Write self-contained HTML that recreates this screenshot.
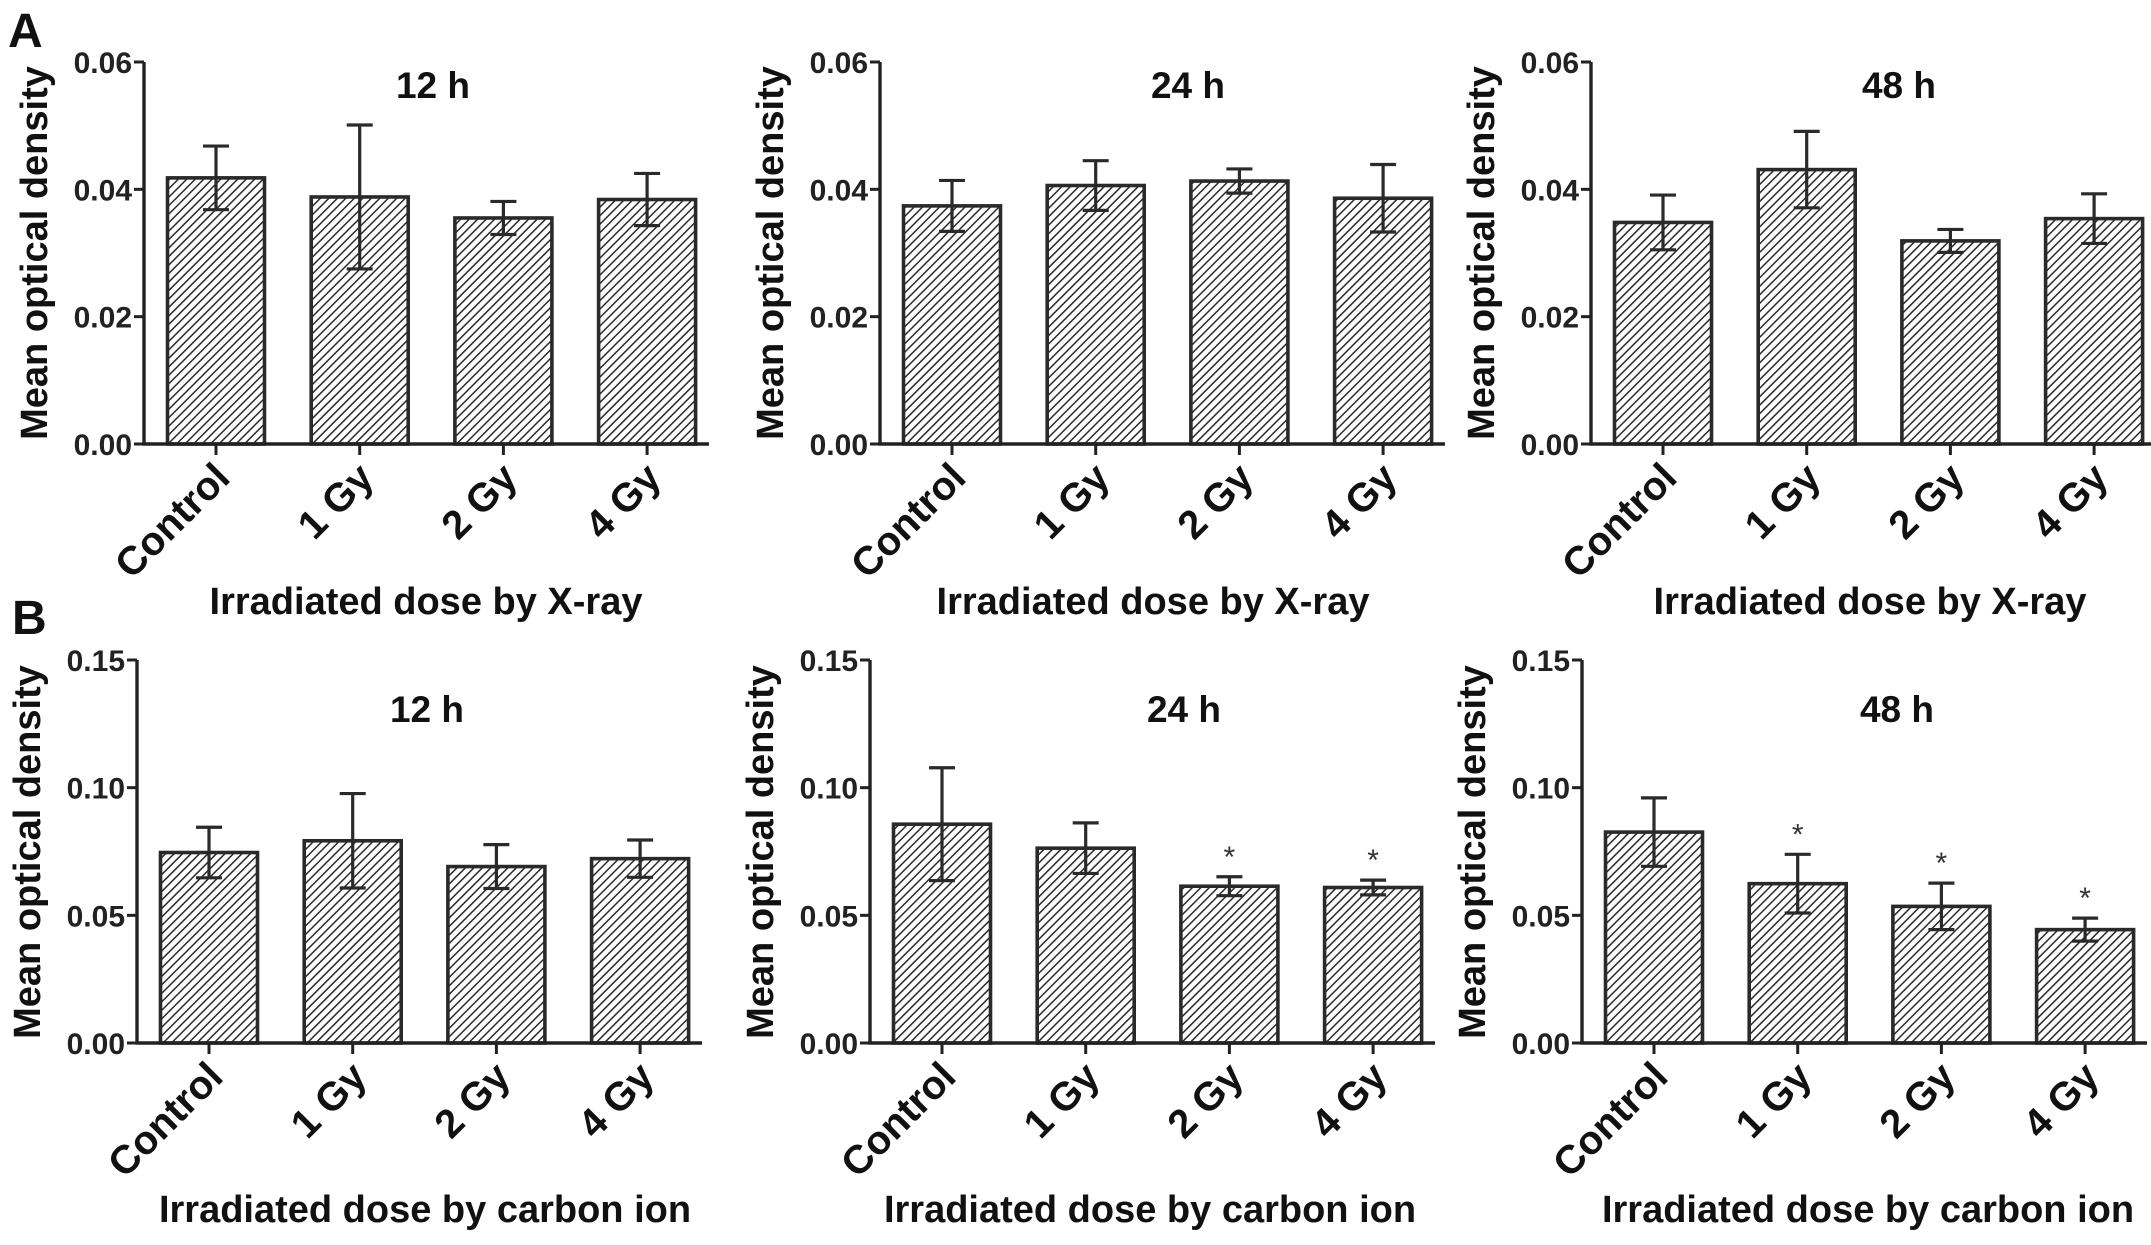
<!DOCTYPE html>
<html><head><meta charset="utf-8"><style>
html,body{margin:0;padding:0;background:#fff;}
svg{display:block;font-family:"Liberation Sans",Arial,sans-serif;}
</style></head><body>
<svg id="fig" width="2151" height="1245" viewBox="0 0 2151 1245" xmlns="http://www.w3.org/2000/svg">
<defs>
<pattern id="hatch" patternUnits="userSpaceOnUse" width="6" height="6" patternTransform="rotate(45)">
<rect width="6" height="6" fill="#fff"/>
<line x1="0" y1="0" x2="0" y2="6" stroke="#2a2a2a" stroke-width="3"/>
</pattern>
</defs>
<text x="8" y="47" font-size="48" font-weight="bold" fill="#111">A</text>
<text x="12" y="634" font-size="48" font-weight="bold" fill="#111">B</text>
</svg>
<script>
const categories = ["Control", "1 Gy", "2 Gy", "4 Gy"];
const xrayTicks = ["0.00", "0.02", "0.04", "0.06"];
const xrayTickVals = [0, 0.02, 0.04, 0.06];
const carbonTicks = ["0.00", "0.05", "0.10", "0.15"];
const carbonTickVals = [0, 0.05, 0.10, 0.15];
const panelTitles = ["12 h", "24 h", "48 h"];

const xray12Mean = [0.0418, 0.0388, 0.0355, 0.0384];
const xray12Err = [0.0050, 0.0113, 0.0026, 0.0041];
const xray24Mean = [0.0374, 0.0406, 0.0413, 0.0386];
const xray24Err = [0.0040, 0.0039, 0.0019, 0.0053];
const xray48Mean = [0.0348, 0.0431, 0.0319, 0.0354];
const xray48Err = [0.0043, 0.0060, 0.0018, 0.0039];

const carbon12Mean = [0.0746, 0.0792, 0.0691, 0.0722];
const carbon12Err = [0.0099, 0.0185, 0.0086, 0.0073];
const carbon24Mean = [0.0857, 0.0763, 0.0614, 0.0609];
const carbon24Err = [0.0221, 0.0099, 0.0037, 0.0029];
const carbon48Mean = [0.0826, 0.0624, 0.0535, 0.0444];
const carbon48Err = [0.0134, 0.0115, 0.0091, 0.0045];

const carbon12Star = [false, false, false, false];
const carbon24Star = [false, false, true, true];
const carbon48Star = [false, true, true, true];
const noStar = [false, false, false, false];

const svg = document.getElementById('fig');
const NS = 'http://www.w3.org/2000/svg';
function mk(tag, attrs, parent) {
  const e = document.createElementNS(NS, tag);
  for (const k in attrs) e.setAttribute(k, attrs[k]);
  (parent || svg).appendChild(e);
  return e;
}

const panels = [
  {axisX:144, y0:444, yTop:62, max:0.06, ticks:xrayTicks, tickVals:xrayTickVals, mean:xray12Mean, err:xray12Err, star:noStar, title:panelTitles[0], titleX:433, titleY:98, xTitle:"Irradiated dose by X-ray", xTitleX:426, xTitleY:614, yTitleY:253, id:'xray-12h'},
  {axisX:880, y0:444, yTop:62, max:0.06, ticks:xrayTicks, tickVals:xrayTickVals, mean:xray24Mean, err:xray24Err, star:noStar, title:panelTitles[1], titleX:1188, titleY:98, xTitle:"Irradiated dose by X-ray", xTitleX:1153, xTitleY:614, yTitleY:253, id:'xray-24h'},
  {axisX:1591, y0:444, yTop:62, max:0.06, ticks:xrayTicks, tickVals:xrayTickVals, mean:xray48Mean, err:xray48Err, star:noStar, title:panelTitles[2], titleX:1899, titleY:98, xTitle:"Irradiated dose by X-ray", xTitleX:1870, xTitleY:614, yTitleY:253, id:'xray-48h'},
  {axisX:137, y0:1043, yTop:660, max:0.15, ticks:carbonTicks, tickVals:carbonTickVals, mean:carbon12Mean, err:carbon12Err, star:carbon12Star, title:panelTitles[0], titleX:427, titleY:722, xTitle:"Irradiated dose by carbon ion", xTitleX:425, xTitleY:1222, yTitleY:852, id:'carbon-12h'},
  {axisX:870, y0:1043, yTop:660, max:0.15, ticks:carbonTicks, tickVals:carbonTickVals, mean:carbon24Mean, err:carbon24Err, star:carbon24Star, title:panelTitles[1], titleX:1184, titleY:722, xTitle:"Irradiated dose by carbon ion", xTitleX:1150, xTitleY:1222, yTitleY:852, id:'carbon-24h'},
  {axisX:1582, y0:1043, yTop:660, max:0.15, ticks:carbonTicks, tickVals:carbonTickVals, mean:carbon48Mean, err:carbon48Err, star:carbon48Star, title:panelTitles[2], titleX:1897, titleY:722, xTitle:"Irradiated dose by carbon ion", xTitleX:1868, xTitleY:1222, yTitleY:852, id:'carbon-48h'}
];

panels.forEach(p => {
  const g = mk('g', {});
  
  
  const yS = v => p.y0 - (v / p.max) * (p.y0 - p.yTop);
  const xS = i => p.axisX + 72 + i * 143.7;
  const bw = 97;
  const xEnd = p.axisX + 565;

  p.mean.forEach((m, i) => {
    const r = mk('rect', {x: xS(i) - bw/2, y: yS(m), width: bw, height: p.y0 - yS(m), fill: 'url(#hatch)', stroke: '#2a2a2a', 'stroke-width': 3.6}, g);
    
    
  });
  p.mean.forEach((m, i) => {
    const eg = mk('g', {stroke: '#2a2a2a', 'stroke-width': 3.2}, g);
    
    
    const cx = xS(i), hi = yS(m + p.err[i]), lo = yS(m - p.err[i]);
    mk('line', {x1: cx, x2: cx, y1: hi, y2: lo}, eg);
    mk('line', {x1: cx - 13, x2: cx + 13, y1: hi, y2: hi}, eg);
    mk('line', {x1: cx - 13, x2: cx + 13, y1: lo, y2: lo}, eg);
    if (p.star[i]) {
      const s = mk('text', {x: cx, y: hi - 10, 'text-anchor': 'middle', 'font-size': 30, fill: '#333'}, g);
      s.textContent = '*';
      
      
    }
  });
  const ax = mk('path', {d: `M${p.axisX} ${p.yTop} V${p.y0} H${xEnd}`, fill: 'none', stroke: '#222', 'stroke-width': 3.4}, g);
  
  
  p.tickVals.forEach((v, k) => {
    mk('line', {x1: p.axisX - 10, x2: p.axisX, y1: yS(v), y2: yS(v), stroke: '#222', 'stroke-width': 3}, g);
    const t = mk('text', {x: p.axisX - 12, y: yS(v) + 11, 'text-anchor': 'end', 'font-size': 30, 'font-weight': 'bold', fill: '#222'}, g);
    t.textContent = p.ticks[k];
    
    
  });
  categories.forEach((c, i) => {
    mk('line', {x1: xS(i), x2: xS(i), y1: p.y0, y2: p.y0 + 11, stroke: '#222', 'stroke-width': 3}, g);
    const ax0 = xS(i) + 16, ay0 = p.y0 + 36;
    const t = mk('text', {x: ax0, y: ay0, 'text-anchor': 'end', 'font-size': 40, 'font-weight': 'bold', fill: '#111', transform: `rotate(-45 ${ax0} ${ay0})`}, g);
    t.textContent = c;
    
    
  });
  const tt = mk('text', {x: p.titleX, y: p.titleY, 'text-anchor': 'middle', 'font-size': 37, 'font-weight': 'bold', fill: '#111'}, g);
  tt.textContent = p.title;
  
  
  const xt = mk('text', {x: p.xTitleX, y: p.xTitleY, 'text-anchor': 'middle', 'font-size': 38, 'font-weight': 'bold', fill: '#111'}, g);
  xt.textContent = p.xTitle;
  
  
  const yx = p.axisX - 97;
  const yt = mk('text', {x: yx, y: p.yTitleY, 'text-anchor': 'middle', 'font-size': 38, 'font-weight': 'bold', fill: '#111', transform: `rotate(-90 ${yx} ${p.yTitleY})`}, g);
  yt.textContent = 'Mean optical density';
  
  
});
</script>
</body></html>
